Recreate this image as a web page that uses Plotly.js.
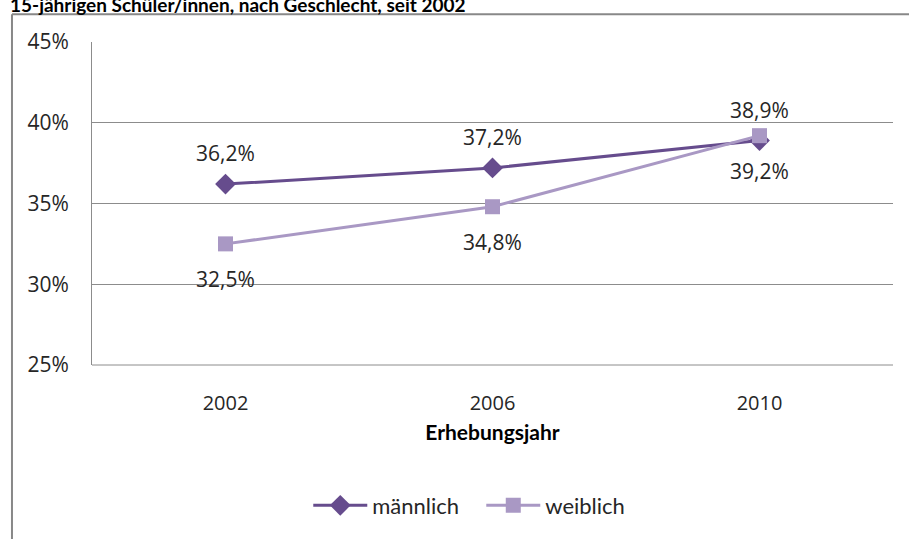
<!DOCTYPE html>
<html>
<head>
<meta charset="utf-8">
<script src="https://cdn.plot.ly/plotly-3.0.1.min.js"></script>
<style>html,body{margin:0;padding:0;background:#fff;}#chart{width:909px;height:539px;}</style>
</head>
<body>
<div id="chart"></div>
<script>
const years = ["2002", "2006", "2010"];
const maennlich = [36.2, 37.2, 38.9];
const weiblich = [32.5, 34.8, 39.2];
const seriesNames = ["männlich", "weiblich"];
const yTickVals = [25, 30, 35, 40, 45];
const yTickText = ["25%", "30%", "35%", "40%", "45%"];
const titleText = "15-jährigen Schüler/innen, nach Geschlecht, seit 2002";
const xTitle = "Erhebungsjahr";

const colM = "#664C8D";
const colW = "#A998C4";
const fmt = v => v.toFixed(1).replace(".", ",") + "%";

const traces = [
  {x: years, y: maennlich, name: seriesNames[0], type: "scatter", mode: "lines+markers",
   line: {color: colM, width: 3}, marker: {symbol: "diamond", size: 16, color: colM}},
  {x: years, y: weiblich, name: seriesNames[1], type: "scatter", mode: "lines+markers",
   line: {color: colW, width: 3}, marker: {symbol: "square", size: 15, color: colW}}
];

const labelFont = {family: "Open Sans, sans-serif", size: 21, color: "#262626"};
const annotations = [];
years.forEach((yr, i) => {
  annotations.push({x: i, y: maennlich[i], xref: "x", yref: "y", text: fmt(maennlich[i]),
    showarrow: false, yshift: 31, font: labelFont});
  annotations.push({x: i, y: weiblich[i], xref: "x", yref: "y", text: fmt(weiblich[i]),
    showarrow: false, yshift: -35, font: labelFont});
});
annotations.push({x: 0, y: 1, xref: "paper", yref: "paper", xanchor: "left", yanchor: "top",
  text: "<b>" + titleText + "</b>", showarrow: false, xshift: -84, yshift: 51,
  font: {family: "Lato, sans-serif", size: 19, color: "#000"}});

const layout = {
  width: 909, height: 539,
  margin: {l: 92, r: 16, t: 42, b: 171},
  paper_bgcolor: "#fff", plot_bgcolor: "#fff",
  showlegend: true,
  legend: {orientation: "h", x: 0.27, xanchor: "left", y: -0.37, yanchor: "top",
    font: {family: "Lato, sans-serif", size: 22, color: "#262626"}, itemwidth: 54,
    entrywidth: 104, entrywidthmode: "pixels", traceorder: "normal"},
  xaxis: {type: "category", range: [-0.5, 2.5], showgrid: false, zeroline: false,
    showline: false, ticks: "outside", ticklen: 20, tickcolor: "rgba(0,0,0,0)",
    tickfont: {family: "Open Sans, sans-serif", size: 20, color: "#262626"},
    title: {text: "<b>" + xTitle + "</b>", standoff: 10, font: {family: "Lato, sans-serif", size: 21, color: "#000"}},
    fixedrange: true},
  yaxis: {range: [25, 45], tickvals: yTickVals, ticktext: yTickText, showgrid: true,
    gridcolor: "#8c8c8c", gridwidth: 1, zeroline: false, showline: true, linecolor: "#8c8c8c", linewidth: 1,
    ticks: "outside", ticklen: 18, tickcolor: "rgba(0,0,0,0)",
    tickfont: {family: "Open Sans, sans-serif", size: 21, color: "#262626"}, fixedrange: true},
  shapes: [
    {type: "line", xref: "paper", yref: "paper", x0: 0, x1: 1, y0: 0, y1: 0, line: {color: "#8c8c8c", width: 1}},
    {type: "line", xref: "paper", yref: "paper", x0: -0.0999, x1: -0.0999, y0: 1.086, y1: -0.6, line: {color: "#888", width: 2}},
    {type: "line", xref: "paper", yref: "paper", x0: -0.0999, x1: 1.1, y0: 1.086, y1: 1.086, line: {color: "#888", width: 2}}
  ],
  annotations: annotations
};

Plotly.newPlot("chart", traces, layout, {displayModeBar: false, staticPlot: true});
</script>
</body>
</html>
